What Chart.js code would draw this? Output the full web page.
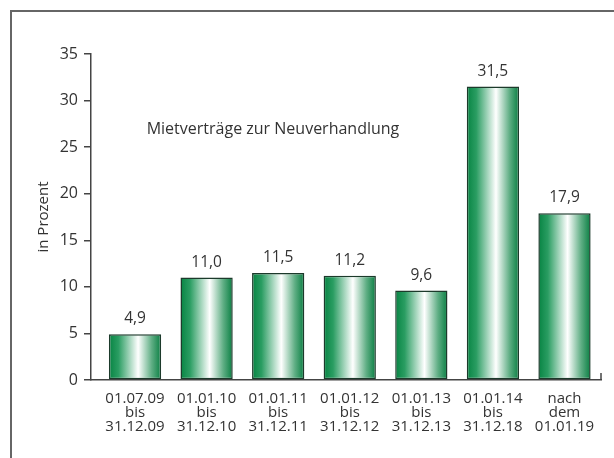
<!DOCTYPE html>
<html>
<head>
<meta charset="utf-8">
<script src="https://cdn.jsdelivr.net/npm/chart.js@4/dist/chart.umd.min.js"></script>
<style>
    html, body { margin: 0; padding: 0; background: #fff; }
    #wrap { position: relative; width: 614px; height: 458px; overflow: hidden; }
    #frame {
        position: absolute; left: 10px; top: 10px; width: 700px; height: 500px;
        border-left: 2px solid #666; border-top: 2px solid #666;
    }
    canvas { position: absolute; left: 0; top: 0; }
</style>
</head>
<body>
<div id="wrap">
    <div id="frame"></div>
    <canvas id="chart" width="614" height="458"></canvas>
</div>
<script>
// Mietverträge nach Zeitraum der Neuverhandlung
const periods = [
    ['01.07.09', 'bis', '31.12.09'],
    ['01.01.10', 'bis', '31.12.10'],
    ['01.01.11', 'bis', '31.12.11'],
    ['01.01.12', 'bis', '31.12.12'],
    ['01.01.13', 'bis', '31.12.13'],
    ['01.01.14', 'bis', '31.12.18'],
    ['nach', 'dem', '01.01.19']
];
const shares = [4.9, 11.0, 11.5, 11.2, 9.6, 31.5, 17.9];
const yTicks = [0, 5, 10, 15, 20, 25, 30, 35];

const FONT = "'Open Sans', 'DejaVu Sans', sans-serif";
const TEXT = '#333';

const fmt = v => v.toFixed(1).replace('.', ',');

function barGradient(ctx) {
    const chart = ctx.chart;
    const xs = chart.scales.x;
    if (!xs || ctx.dataIndex === undefined) return '#0d8a48';
    const cx = xs.getPixelForValue(ctx.dataIndex);
    if (!isFinite(cx)) return '#0d8a48';
    const half = 26;
    const g = chart.ctx.createLinearGradient(cx - half, 0, cx + half, 0);
    g.addColorStop(0, '#078443');
    g.addColorStop(0.18, '#2a9d62');
    g.addColorStop(0.56, '#ffffff');
    g.addColorStop(0.82, '#5fae84');
    g.addColorStop(1, '#0a7f43');
    return g;
}

// value labels above bars, caption inside the plot, end tick on x axis
const extras = {
    id: 'extras',
    afterDatasetsDraw(chart) {
        const { ctx, chartArea } = chart;
        const meta = chart.getDatasetMeta(0);
        ctx.save();
        ctx.fillStyle = TEXT;
        ctx.font = `15.5px ${FONT}`;
        ctx.textAlign = 'center';
        ctx.textBaseline = 'alphabetic';
        meta.data.forEach((bar, i) => {
            ctx.fillText(fmt(shares[i]), bar.x, bar.y - 11);
        });
        ctx.font = `16px ${FONT}`;
        ctx.fillText('Mietverträge zur Neuverhandlung', 273, 134);

        ctx.strokeStyle = '#444';
        ctx.lineWidth = 1.5;
        ctx.beginPath();
        ctx.moveTo(chartArea.right, chartArea.bottom);
        ctx.lineTo(chartArea.right, chartArea.bottom - 7);
        ctx.stroke();
        ctx.restore();
    }
};

new Chart(document.getElementById('chart'), {
    type: 'bar',
    data: {
        datasets: [{
            data: shares.map((v, i) => ({ x: i, y: v })),
            backgroundColor: barGradient,
            borderColor: '#1c3a2b',
            borderWidth: 1.5,
            borderSkipped: false,
            barPercentage: 0.73,
            categoryPercentage: 1
        }]
    },
    options: {
        responsive: false,
        animation: false,
        layout: { padding: { top: 54, right: 13, left: 0, bottom: 0 } },
        plugins: { legend: { display: false }, tooltip: { enabled: false } },
        scales: {
            x: {
                type: 'linear',
                offset: false,
                min: -0.615,
                max: 6.51,
                afterBuildTicks: axis => { axis.ticks = periods.map((_, i) => ({ value: i })); },
                afterFit: axis => { axis.height = 78; },
                grid: { display: false },
                border: { display: true, color: '#444', width: 1.5 },
                ticks: {
                    autoSkip: false,
                    maxRotation: 0,
                    padding: 4,
                    color: TEXT,
                    font: { family: FONT, size: 15, lineHeight: 0.93 },
                    callback: v => periods[v]
                }
            },
            y: {
                min: 0,
                max: 35,
                afterBuildTicks: axis => { axis.ticks = yTicks.map(v => ({ value: v })); },
                afterFit: axis => { axis.width = 91; },
                grid: { drawOnChartArea: false, tickLength: 7, color: '#444', lineWidth: 1.5 },
                border: { display: true, color: '#444', width: 1.5 },
                ticks: {
                    padding: 6,
                    color: TEXT,
                    font: { family: FONT, size: 16 }
                },
                title: {
                    display: true,
                    text: 'in Prozent',
                    color: TEXT,
                    font: { family: FONT, size: 15 },
                    padding: { top: 35, bottom: 0 }
                }
            }
        }
    },
    plugins: [extras]
});
</script>
</body>
</html>
